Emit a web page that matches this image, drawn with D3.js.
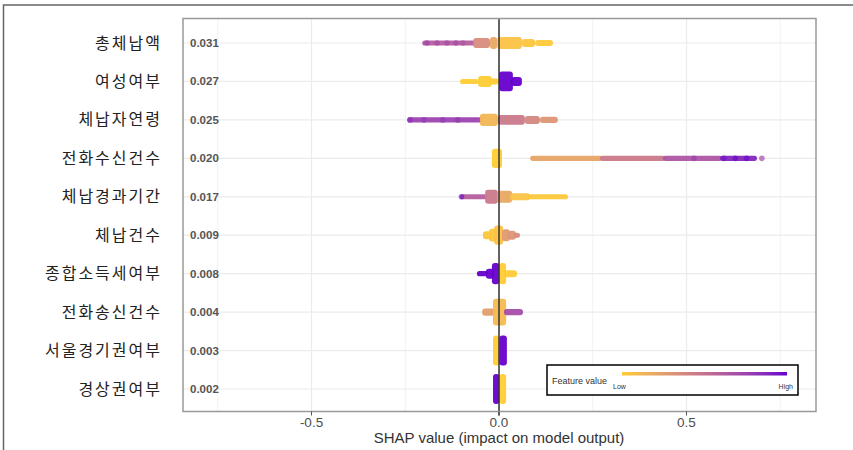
<!DOCTYPE html>
<html>
<head>
<meta charset="utf-8">
<script src="https://cdn.jsdelivr.net/npm/d3@7"></script>
<style>
  body { margin: 0; background: #fff; }
  svg { display: block; }
  .ylab { font-family: "Noto Sans CJK KR", sans-serif; font-size: 16px; fill: #222; letter-spacing: 2px; }
  .imp { font-family: "Liberation Sans", Arial, sans-serif; font-size: 11.5px; font-weight: bold; fill: #555; }
  .tick-label { font-family: "Liberation Sans", Arial, sans-serif; font-size: 13.5px; fill: #4d4d4d; }
  .axis-title { font-family: "Liberation Sans", Arial, sans-serif; font-size: 15px; fill: #333; }
  .legend-text { font-family: "Liberation Sans", Arial, sans-serif; fill: #333; }
</style>
</head>
<body>
<svg id="chart" width="853" height="450"></svg>
<script>
// features, top to bottom, with mean |SHAP|
const features = ['총체납액', '여성여부', '체납자연령', '전화수신건수', '체납경과기간',
  '체납건수', '종합소득세여부', '전화송신건수', '서울경기권여부', '경상권여부']
const meanAbs = ['0.031', '0.027', '0.025', '0.020', '0.017', '0.009', '0.008', '0.004', '0.003', '0.002']
const xTicks = [-0.5, 0, 0.5]

// each band: [shapFrom, shapTo, relative density, feature value (0 low .. 1 high)]
const bandsTotalArrears = [
  [-0.205, -0.064, 0.16, 0.6], [-0.069, -0.024, 0.31, 0.35], [-0.024, -0.005, 0.38, 0.2],
  [-0.005, 0.061, 0.38, 0.05], [0.061, 0.096, 0.25, 0.03], [0.096, 0.144, 0.19, 0.02]
]
const bandsFemale = [
  [-0.104, -0.056, 0.16, 0], [-0.056, -0.019, 0.34, 0], [-0.024, 0.0, 0.19, 0],
  [0.0, 0.037, 0.62, 1], [0.032, 0.061, 0.28, 1]
]
const bandsAge = [
  [-0.245, -0.045, 0.16, 0.75], [-0.051, -0.003, 0.38, 0.12], [-0.003, 0.069, 0.31, 0.45],
  [0.069, 0.109, 0.25, 0.38], [0.109, 0.157, 0.19, 0.3]
]
const bandsCallsIn = [
  [-0.019, 0.008, 0.6, 0], [0.083, 0.275, 0.16, 0.22], [0.269, 0.443, 0.16, 0.45],
  [0.437, 0.595, 0.16, 0.65], [0.589, 0.688, 0.16, 0.88]
]
const bandsElapsed = [
  [-0.104, -0.032, 0.16, 0.6], [-0.037, -0.003, 0.44, 0.45], [-0.005, 0.035, 0.38, 0.2],
  [0.029, 0.083, 0.22, 0.05], [0.077, 0.184, 0.16, 0.02]
]
const bandsCount = [
  [-0.043, -0.021, 0.25, 0.03], [-0.027, -0.005, 0.4, 0.03], [-0.013, 0.011, 0.6, 0.05],
  [0.008, 0.029, 0.38, 0.28], [0.024, 0.045, 0.28, 0.3], [0.040, 0.056, 0.16, 0.35]
]
const bandsIncomeTax = [
  [-0.059, -0.029, 0.16, 1], [-0.035, -0.013, 0.31, 1], [-0.019, 0.001, 0.66, 1],
  [0.001, 0.019, 0.66, 0], [0.013, 0.048, 0.22, 0]
]
const bandsCallsOut = [
  [-0.045, -0.011, 0.22, 0.25], [-0.016, 0.019, 0.84, 0.1], [0.013, 0.064, 0.19, 0.7]
]
const bandsCapital = [
  [-0.016, 0.001, 0.94, 0], [0.001, 0.021, 0.94, 1]
]
const bandsGyeongsang = [
  [-0.016, 0.001, 0.94, 1], [0.001, 0.019, 0.94, 0]
]
const bands = [bandsTotalArrears, bandsFemale, bandsAge, bandsCallsIn, bandsElapsed,
  bandsCount, bandsIncomeTax, bandsCallsOut, bandsCapital, bandsGyeongsang]

// single visible points on the thin tails: [row, shap, feature value]
const tailDots = [
  [0, -0.192, 0.75], [0, -0.165, 0.7], [0, -0.139, 0.7], [0, -0.115, 0.7], [0, -0.096, 0.65],
  [2, -0.237, 0.85], [2, -0.2, 0.8], [2, -0.15, 0.8], [2, -0.11, 0.8],
  [3, 0.52, 0.75], [3, 0.6, 0.95], [3, 0.63, 0.98], [3, 0.66, 0.98], [3, 0.701, 0.7],
  [4, -0.1, 0.95]
]

const W = 853, H = 450
const panel = {left: 183, right: 816, top: 18.5, bottom: 411.5}

const svg = d3.select('#chart')

let x = d3.scaleLinear()
  .domain([-0.8427, 0.8453])
  .range([panel.left, panel.right])
let y = d3.scalePoint()
  .domain(features)
  .range([43, 389])
let halfH = d3.scaleLinear().domain([0, 1]).range([0, 16])
let color = d3.scaleLinear()
  .domain([0, 1])
  .range(['#FFCC33', '#6600CC'])
  .interpolate(d3.interpolateLab)

// outer frame
svg.append('path')
  .attr('d', `M3.5,${H} L3.5,5 L${W},5`)
  .attr('fill', 'none')
  .attr('stroke', '#666')
  .attr('stroke-width', 1.5)

// grid
let grid = svg.append('g')
grid.selectAll('.vminor')
  .data([-0.75, -0.25, 0.25, 0.75])
  .enter().append('line')
  .attr('x1', d => x(d)).attr('x2', d => x(d))
  .attr('y1', panel.top).attr('y2', panel.bottom)
  .attr('stroke', '#f2f2f2').attr('stroke-width', 1)
grid.selectAll('.vmajor')
  .data(xTicks)
  .enter().append('line')
  .attr('x1', d => x(d)).attr('x2', d => x(d))
  .attr('y1', panel.top).attr('y2', panel.bottom)
  .attr('stroke', '#ebebeb').attr('stroke-width', 1.2)
grid.selectAll('.hmajor')
  .data(features)
  .enter().append('line')
  .attr('x1', panel.left).attr('x2', panel.right)
  .attr('y1', d => y(d)).attr('y2', d => y(d))
  .attr('stroke', '#ebebeb').attr('stroke-width', 1.2)

// sina-like bands (stacks of overlapping points)
let rows = svg.append('g').selectAll('.row')
  .data(bands)
  .enter().append('g')
  .attr('transform', (d, i) => 'translate(0,' + y(features[i]) + ')')

rows.selectAll('rect')
  .data(d => d)
  .enter().append('rect')
  .attr('x', d => x(d[0]))
  .attr('width', d => x(d[1]) - x(d[0]))
  .attr('y', d => -halfH(d[2]))
  .attr('height', d => 2 * halfH(d[2]))
  .attr('rx', d => Math.min(3, halfH(d[2]), (x(d[1]) - x(d[0])) / 2))
  .attr('fill', d => color(d[3]))
  .attr('fill-opacity', 0.95)

svg.append('g').selectAll('circle')
  .data(tailDots)
  .enter().append('circle')
  .attr('cx', d => x(d[1]))
  .attr('cy', d => y(features[d[0]]))
  .attr('r', 2.8)
  .attr('fill', d => color(d[2]))
  .attr('fill-opacity', 0.7)

// zero line
svg.append('line')
  .attr('x1', x(0)).attr('x2', x(0))
  .attr('y1', panel.top).attr('y2', panel.bottom + 4)
  .attr('stroke', '#333').attr('stroke-width', 1.5)

// panel border
svg.append('rect')
  .attr('x', panel.left).attr('y', panel.top)
  .attr('width', panel.right - panel.left)
  .attr('height', panel.bottom - panel.top)
  .attr('fill', 'none')
  .attr('stroke', '#999')
  .attr('stroke-width', 1.5)

// x ticks and labels
svg.selectAll('.xtick')
  .data(xTicks)
  .enter().append('line')
  .attr('x1', d => x(d)).attr('x2', d => x(d))
  .attr('y1', panel.bottom).attr('y2', panel.bottom + 4)
  .attr('stroke', '#555').attr('stroke-width', 1)
svg.selectAll('.tick-label')
  .data(xTicks)
  .enter().append('text')
  .attr('class', 'tick-label')
  .attr('x', d => x(d))
  .attr('y', 427)
  .attr('text-anchor', 'middle')
  .text(d => d3.format('.1f')(d).replace('−', '-'))

svg.append('text')
  .attr('class', 'axis-title')
  .attr('x', x(0))
  .attr('y', 443)
  .attr('text-anchor', 'middle')
  .text('SHAP value (impact on model output)')

// feature labels and mean |SHAP|
svg.selectAll('.ylab')
  .data(features)
  .enter().append('text')
  .attr('class', 'ylab')
  .attr('x', 162)
  .attr('y', d => y(d))
  .attr('dy', '0.35em')
  .attr('text-anchor', 'end')
  .text(d => d)

svg.selectAll('.imp')
  .data(meanAbs)
  .enter().append('text')
  .attr('class', 'imp')
  .attr('x', 190)
  .attr('y', (d, i) => y(features[i]))
  .attr('dy', '0.35em')
  .text(d => d)

// legend
let legend = svg.append('g')
legend.append('rect')
  .attr('x', 547).attr('y', 365)
  .attr('width', 251).attr('height', 30)
  .attr('fill', '#fff')
  .attr('stroke', '#000')
  .attr('stroke-width', 1.5)

let grad = svg.append('defs').append('linearGradient').attr('id', 'fv-grad')
d3.range(0, 1.01, 0.1).forEach(t => {
  grad.append('stop').attr('offset', t).attr('stop-color', color(t))
})
legend.append('rect')
  .attr('x', 622).attr('y', 372)
  .attr('width', 165).attr('height', 3.5)
  .attr('fill', 'url(#fv-grad)')
legend.append('text')
  .attr('class', 'legend-text')
  .attr('x', 552).attr('y', 384)
  .style('font-size', '9px')
  .text('Feature value')
legend.append('text')
  .attr('class', 'legend-text')
  .attr('x', 613).attr('y', 388.5)
  .style('font-size', '7px')
  .text('Low')
legend.append('text')
  .attr('class', 'legend-text')
  .attr('x', 793).attr('y', 388.5)
  .attr('text-anchor', 'end')
  .style('font-size', '7px')
  .text('High')
</script>
</body>
</html>
